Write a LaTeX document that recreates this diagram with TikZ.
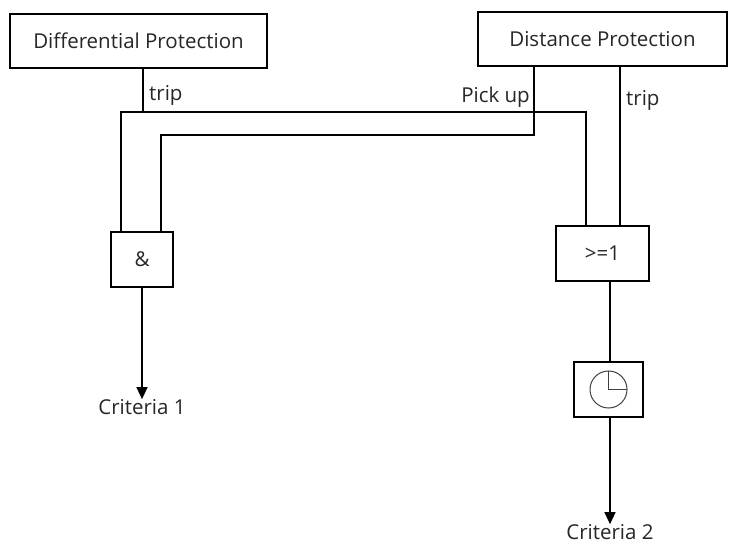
\documentclass[tikz,border=0pt]{standalone}
\usepackage{fontspec}
\setmainfont{Open Sans}
\usetikzlibrary{arrows.meta}
\begin{document}
\begin{tikzpicture}[x=1pt,y=-1pt,
  every node/.style={font=\fontsize{20.5}{24}\selectfont, text=black!85},
  blk/.style={draw, line width=1.3pt, inner sep=0pt, minimum height=54pt},
  wire/.style={line width=1.3pt},
  outarrow/.style={wire, -{Triangle[width=11pt,length=12pt]}},
  lbl/.style={inner sep=0pt}]
  \useasboundingbox (0,0) rectangle (731,545);

  % protection relays
  \node[blk, minimum width=257pt] (diff) at (138.5,41) {Differential Protection};
  \node[blk, minimum width=249pt] (dist) at (602.5,39) {Distance Protection};

  % logic blocks
  \node[blk, minimum width=62pt, minimum height=55pt] (and) at (142,259.5) {\&};
  \node[blk, minimum width=93pt, minimum height=55pt] (or) at (602.5,253.5) {>=1};
  \node[blk, minimum width=69pt, minimum height=55pt] (timer) at (608.5,389.5) {};

  % timer symbol
  \draw[line width=1pt, black!75] (timer.center) circle (18.5pt);
  \draw[line width=1pt, black!75] (timer.center) ++(0,-18.5) -- (timer.center) -- ++(18.5,0);

  % outputs
  \node[lbl] (c1) at (142,407) {Criteria 1};
  \node[lbl] (c2) at (610,532) {Criteria 2};

  % bends of the wiring
  \coordinate (difftrip) at (143,112);
  \coordinate (busL) at (121,112);
  \coordinate (busR) at (586,112);
  \coordinate (pickbend) at (534,135);
  \coordinate (pickL) at (161,135);

  % differential trip feeds both gates
  \draw[wire] (diff.south -| difftrip) -- (difftrip);
  \draw[wire] (and.north -| busL) -- (busL) -- (busR) -- (or.north -| busR);

  % distance pick up to the AND gate
  \draw[wire] (dist.south -| pickbend) -- (pickbend) -- (pickL) -- (and.north -| pickL);

  % distance trip to the OR gate
  \draw[wire] (dist.south -| 620,0) -- (or.north -| 620,0);

  % gate outputs
  \draw[outarrow] (and.south) -- (c1.north);
  \draw[wire] (or.south -| 610,0) -- (timer.north -| 610,0);
  \draw[outarrow] (timer.south -| 610,0) -- (c2.north);

  % signal labels
  \node[lbl, anchor=west] at (149,95) {trip};
  \node[lbl, anchor=east] at (530,97) {Pick up};
  \node[lbl, anchor=west] at (626,100) {trip};
\end{tikzpicture}
\end{document}
